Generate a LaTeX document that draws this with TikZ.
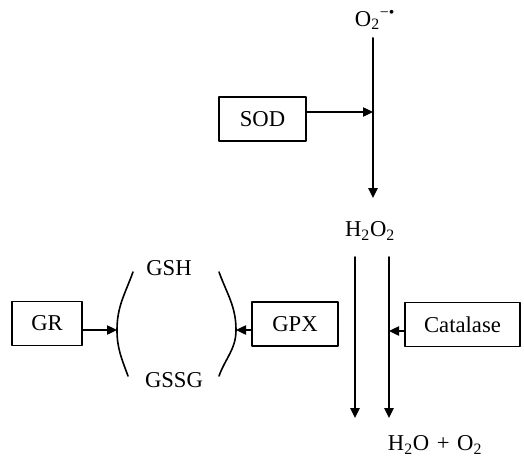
\documentclass[tikz,border=0pt]{standalone}
\usepackage{fontspec}
\setmainfont{Liberation Serif}
\usetikzlibrary{arrows.meta}
\newcommand{\sbs}[1]{\textsubscript{#1}}

\begin{document}
\begin{tikzpicture}[x=0.75pt, y=-0.75pt, >={Triangle[length=7.5pt,width=7pt]}, line cap=round, line join=round,
    font=\fontsize{17}{19}\selectfont,
    enzyme/.style={draw, line width=1.2pt, minimum height=33pt, inner sep=0pt},
    chem/.style={inner sep=0pt},
    flow/.style={->, line width=1.5pt}]
    \useasboundingbox (0,0) rectangle (524,457);

    % species
    \node[chem] (o2) at (375,20) {O\sbs{2}\textsuperscript{−•}};
    \node[chem] (h2o2) at (370,231) {H\sbs{2}O\sbs{2}};
    \node[chem] (prod) at (435,445) {H\sbs{2}O\,\,+\,\,O\sbs{2}};
    \node[chem] (gsh) at (169,268) {GSH};
    \node[chem] (gssg) at (174,380) {GSSG};

    % enzymes
    \node[enzyme, minimum width=65pt] (sod) at (262.5,119) {SOD};
    \node[enzyme, minimum width=52.5pt] (gr) at (47,323.5) {GR};
    \node[enzyme, minimum width=64.5pt] (gpx) at (295,324) {GPX};
    \node[enzyme, minimum width=86pt] (cat) at (462.5,324.5) {Catalase};

    % main chain
    \coordinate (top) at (373,38);
    \coordinate (topend) at (373,198);
    \coordinate (sodhit) at (373,112);
    \draw[flow] (top) -- (topend);
    \draw[->, line width=1pt] (sod.east |- sodhit) -- (sodhit);

    \coordinate (gtop) at (355,257);
    \coordinate (gend) at (355,418);
    \coordinate (ctop) at (389,257);
    \coordinate (cend) at (389,418);
    \draw[flow] (gtop) -- (gend);
    \draw[flow] (ctop) -- (cend);
    \coordinate (cathit) at (389,331);
    \draw[->, line width=1pt] (cat.west |- cathit) -- (cathit);

    % glutathione cycle
    \coordinate (lmid) at (117,330);
    \coordinate (rmid) at (236,330);
    \draw[line width=1.2pt] (133,272) to[out=-110,in=90] (lmid) to[out=-90,in=110] (128,376);
    \draw[line width=1.2pt] (219,272) to[out=-70,in=90] (rmid) to[out=-90,in=70] (219,376);
    \draw[->, line width=1pt] (gr.east |- lmid) -- (lmid);
    \draw[->, line width=1pt] (gpx.west |- rmid) -- (rmid);

\end{tikzpicture}
\end{document}
